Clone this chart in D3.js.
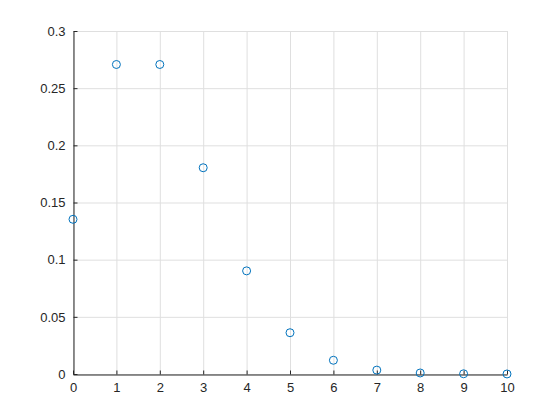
<!DOCTYPE html>
<html>
<head>
<meta charset="utf-8">
<script src="https://cdn.jsdelivr.net/npm/d3@7"></script>
<style>
  body { margin: 0; background: #fff; }
  text { font-family: "Liberation Sans", Arial, sans-serif; }
</style>
</head>
<body>
<script>
// values
const xs = [0, 1, 2, 3, 4, 5, 6, 7, 8, 9, 10]
const ys = [0.1353, 0.2707, 0.2707, 0.1804, 0.0902, 0.0361, 0.0120, 0.0034, 0.0009, 0.0002, 0.00004]
const xTicks = [0, 1, 2, 3, 4, 5, 6, 7, 8, 9, 10]
const yTicks = [0, 0.05, 0.1, 0.15, 0.2, 0.25, 0.3]

const width = 560
const height = 420
const plotLeft = 73, plotRight = 507, plotTop = 31, plotBottom = 374

const svg = d3.select("body").append("svg")
    .attr("width", width)
    .attr("height", height)

const x = d3.scaleLinear().domain([0, 10]).range([plotLeft, plotRight])
const y = d3.scaleLinear().domain([0, 0.3]).range([plotBottom, plotTop])

// grid
svg.append("g").selectAll("line")
    .data(xTicks)
    .enter().append("line")
    .attr("x1", d => x(d) + 0.5).attr("x2", d => x(d) + 0.5)
    .attr("y1", plotTop).attr("y2", plotBottom)
    .attr("stroke", "#dfdfdf").attr("stroke-width", 1)
svg.append("g").selectAll("line")
    .data(yTicks)
    .enter().append("line")
    .attr("x1", plotLeft).attr("x2", plotRight)
    .attr("y1", d => y(d) + 0.5).attr("y2", d => y(d) + 0.5)
    .attr("stroke", "#dfdfdf").attr("stroke-width", 1)

const fmtY = d => String(+d.toFixed(2))

const xAxis = svg.append("g")
    .attr("transform", `translate(0,${plotBottom + 0.5})`)
    .call(d3.axisBottom(x).tickValues(xTicks).tickSizeInner(-4).tickSizeOuter(0).tickPadding(8))
const yAxis = svg.append("g")
    .attr("transform", `translate(${plotLeft + 0.5},0)`)
    .call(d3.axisLeft(y).tickValues(yTicks).tickFormat(fmtY).tickSizeInner(-4).tickSizeOuter(0).tickPadding(8))

for (const a of [xAxis, yAxis]) {
    a.select(".domain").attr("stroke", "#262626")
    a.selectAll(".tick line").attr("stroke", "#262626")
    a.selectAll("text").attr("fill", "#262626").style("font-size", "13px")
}

// markers
svg.append("g").selectAll("circle")
    .data(xs)
    .enter().append("circle")
    .attr("cx", d => x(d))
    .attr("cy", (d, i) => y(ys[i]))
    .attr("r", 4)
    .attr("fill", "none")
    .attr("stroke", "#0072bd")
    .attr("stroke-width", 1)
</script>
</body>
</html>
